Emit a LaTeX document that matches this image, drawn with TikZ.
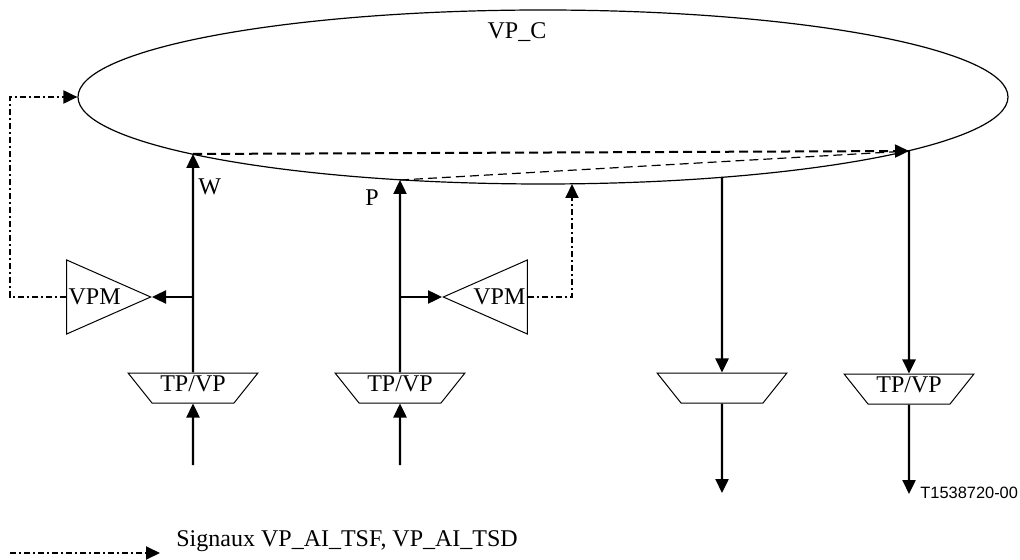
\documentclass[tikz,border=0pt]{standalone}
\usepackage{fontspec}
\setmainfont{Liberation Serif}
\newfontfamily\idfont{Liberation Sans}
\usetikzlibrary{positioning, arrows.meta, shapes.geometric}

\begin{document}
\begin{tikzpicture}[
  x=0.5pt, y=-0.5pt,
  every node/.style={font=\fontsize{12}{14}\selectfont, inner sep=1pt},
  tpvp/.style={draw, line width=0.5pt, trapezium, shape border rotate=180,
               trapezium angle=56, trapezium stretches=true,
               minimum width=65pt, minimum height=15pt, inner sep=1pt,
               text height=8pt, text depth=5pt},
  vpm/.style={draw, line width=0.5pt, isosceles triangle,
              isosceles triangle stretches=true,
              minimum width=37pt, minimum height=42pt, inner sep=1pt},
  flow/.style={line width=1.2pt, -{Triangle[length=7pt, width=6.5pt]}},
  sig/.style={line width=1pt, dash pattern=on 3pt off 1.5pt on 1pt off 1.5pt,
              -{Triangle[length=7pt, width=6.5pt]}},
  link/.style={dash pattern=on 4.5pt off 2.5pt},
]
  \useasboundingbox (0,0) rectangle (1020,560);

  % VP_C
  \node[draw, ellipse, line width=0.6pt, minimum width=465pt,
        minimum height=87pt, inner sep=0pt] (vpc) at (543,97) {};
  \node (vpcLabel) at (517,32) {VP\_C};
  \coordinate (wIn) at (193,154);
  \coordinate (pIn) at (400,180);
  \coordinate (sigIn) at (572,184);
  \coordinate (outA) at (722,177);
  \coordinate (outB) at (909,151);

  % TP/VP blocks
  \node[tpvp] (tpW) at (193,388) {TP/VP};
  \node[tpvp] (tpP) at (400,388) {TP/VP};
  \node[tpvp] (tpA) at (722,388) {\phantom{TP/VP}};
  \node[tpvp] (tpB) at (909,389) {TP/VP};

  \coordinate (srcW) at (193,465);
  \coordinate (srcP) at (400,465);
  \coordinate (sinkA) at (722,493);
  \coordinate (sinkB) at (909,494);

  \draw[flow] (srcW) -- (tpW.south);
  \draw[flow] (srcP) -- (tpP.south);
  \draw[flow] (tpW.north) -- (wIn);
  \draw[flow] (tpP.north) -- (pIn);
  \draw[flow] (outA) -- (tpA.north);
  \draw[flow] (outB) -- (tpB.north);
  \draw[flow] (tpA.south) -- (sinkA);
  \draw[flow] (tpB.south) -- (sinkB);

  \node[anchor=west] (wLabel) at (196,187) {W};
  \node (pLabel) at (372,198) {P};

  % VPM
  \node[vpm, anchor=apex, label={[anchor=west]west:VPM}] (vpmW) at (152,297) {};
  \node[vpm, shape border rotate=180, anchor=apex,
        label={[anchor=east]east:VPM}] (vpmP) at (442,297) {};
  \coordinate (tapW) at (193,297);
  \coordinate (tapP) at (400,297);
  \draw[flow] (tapW) -- (vpmW.apex);
  \draw[flow] (tapP) -- (vpmP.apex);

  \draw[sig] (vpmW.west) -- (10,297) |- (vpc.west);
  \draw[sig] (vpmP.east) -- (572,297) -- (sigIn);

  % connection
  \draw[line width=1pt, link, -{Triangle[length=7pt, width=6.5pt]}] (wIn) -- (outB);
  \draw[line width=0.6pt, link] (pIn) -- (outB);

  \node[anchor=west, font=\idfont\fontsize{8.2}{10}\selectfont] (figId) at (918,493) {T1538720-00};

  % legend
  \coordinate (legA) at (10,553);
  \coordinate (legB) at (160,553);
  \draw[sig] (legA) -- (legB);
  \node[anchor=west] (legText) at (174,541) {Signaux VP\_AI\_TSF, VP\_AI\_TSD};
\end{tikzpicture}
\end{document}
